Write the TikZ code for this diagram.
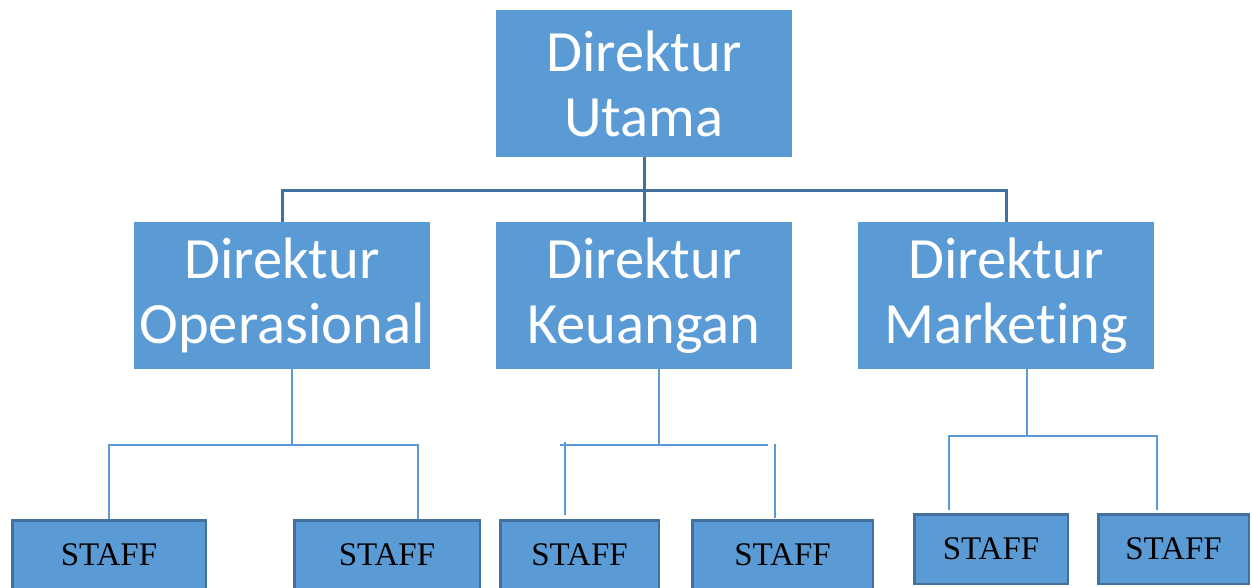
\documentclass[tikz,border=0pt]{standalone}
\usepackage{fontspec}
\setmainfont{Liberation Serif}
\newfontfamily\calibri[Ligatures=NoCommon]{Carlito}
\definecolor{kotakbiru}{HTML}{5B9BD5}
\definecolor{garisbiru}{HTML}{41719C}
\begin{document}
\begin{tikzpicture}[x=1pt, y=-1pt,
        direktur/.style={fill=kotakbiru, text=white, minimum width=296pt, minimum height=147pt,
            inner sep=0pt, align=center, font=\calibri\fontsize{58.5}{65}\selectfont},
        staff/.style={fill=kotakbiru, draw=garisbiru, line width=2.5pt, minimum height=69.5pt,
            inner sep=0pt, font=\fontsize{33}{33}\selectfont},
        garis/.style={garisbiru, line width=3pt},
        cabang/.style={kotakbiru, line width=1.3pt}]
        \clip (0,0) rectangle (1253,587);

        % direktur
        \node[direktur] (utama) at (644,83.5) {Direktur\\Utama};
        \node[direktur] (opr) at (282,295.5) {Direktur\\Operasional};
        \node[direktur] (keu) at (644,295.5) {Direktur\\Keuangan};
        \node[direktur] (mkt) at (1006,295.5) {Direktur\\Marketing};

        % staff
        \node[staff, minimum width=193.5pt] (s1) at (109,555) {STAFF};
        \node[staff, minimum width=185.5pt] (s2) at (387,555) {STAFF};
        \node[staff, minimum width=158.5pt] (s3) at (579.5,555) {STAFF};
        \node[staff, minimum width=180.5pt] (s4) at (782.5,555) {STAFF};
        \node[staff, minimum width=153.5pt] (s5) at (991,549) {STAFF};
        \node[staff, minimum width=150.5pt] (s6) at (1173.5,549) {STAFF};

        % garis atas
        \coordinate (j0) at (644,190);
        \draw[garis] (utama.south) -- (keu.north);
        \draw[garis] (opr.north) |- (j0) -| (mkt.north);

        % operasional
        \coordinate (opj) at (292,445);
        \coordinate (s2t) at (418,519);
        \draw[cabang] (opr.south -| opj) -- (opj);
        \draw[cabang] (s1.north) |- (opj) -| (s2t);

        % keuangan
        \coordinate (keuj) at (659,445);
        \coordinate (keul) at (560,445);
        \coordinate (keur) at (768,445);
        \coordinate (s3a) at (565,442);
        \coordinate (s3t) at (565,515);
        \coordinate (s4a) at (775,444);
        \coordinate (s4t) at (775,518);
        \draw[cabang] (keu.south -| keuj) -- (keuj);
        \draw[cabang] (keul) -- (keur);
        \draw[cabang] (s3a) -- (s3t);
        \draw[cabang] (s4a) -- (s4t);

        % marketing
        \coordinate (mktj) at (1027,436);
        \coordinate (s5t) at (949,510);
        \coordinate (s6t) at (1157,510);
        \draw[cabang] (mkt.south -| mktj) -- (mktj);
        \draw[cabang] (s5t) |- (mktj) -| (s6t);
    \end{tikzpicture}
\end{document}
